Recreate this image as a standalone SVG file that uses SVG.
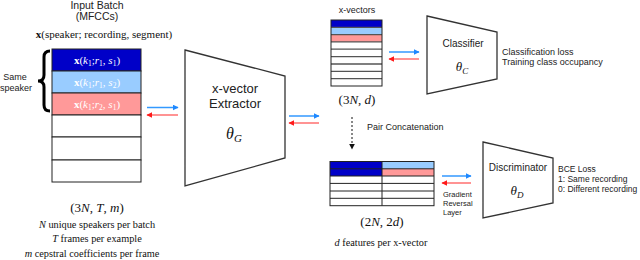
<svg xmlns="http://www.w3.org/2000/svg" width="640" height="260" viewBox="0 0 640 260">
<defs>
<style>
.sans{font-family:"Liberation Sans",Arial,sans-serif;fill:#222}
.serif{font-family:"Liberation Serif","Times New Roman",serif;fill:#111}
.cell{stroke:#222;stroke-width:1}
.trap{fill:#fff;stroke:#333;stroke-width:1.3}
.dk{fill:#0000C8}
.lb{fill:#99CCFF}
.pk{fill:#FF9999}
.wh{fill:#fff}
.blue{stroke:#3399FF;stroke-width:1.5;fill:none}
.red{stroke:#FF6F6F;stroke-width:1.5;fill:none}
.lbl{font-family:"Liberation Serif","Times New Roman",serif;fill:#fff;font-size:11px}
</style>
<marker id="hb" viewBox="0 0 10 10" refX="9" refY="5" markerWidth="6" markerHeight="6" orient="auto" markerUnits="userSpaceOnUse">
<path d="M0,0 L10,5 L0,10 z" fill="#1E88FF"/>
</marker>
<marker id="hr" viewBox="0 0 10 10" refX="9" refY="5" markerWidth="6" markerHeight="6" orient="auto" markerUnits="userSpaceOnUse">
<path d="M0,0 L10,5 L0,10 z" fill="#FF1A1A"/>
</marker>
<marker id="hk" viewBox="0 0 10 10" refX="9" refY="5" markerWidth="6" markerHeight="6" orient="auto" markerUnits="userSpaceOnUse">
<path d="M0,0 L10,5 L0,10 z" fill="#111"/>
</marker>
</defs>
<rect width="640" height="260" fill="#fff"/>

<g id="input-batch">
<text class="sans" x="97" y="9" font-size="10.5" text-anchor="middle">Input Batch</text>
<text class="sans" x="97" y="20" font-size="10.5" text-anchor="middle">(MFCCs)</text>
<text class="serif" x="104" y="38" font-size="11" text-anchor="middle"><tspan font-weight="bold">x</tspan>(speaker; recording, segment)</text>
<rect class="cell dk" x="52" y="49" width="89" height="22"/>
<rect class="cell lb" x="52" y="71" width="89" height="22"/>
<rect class="cell pk" x="52" y="93" width="89" height="22"/>
<rect class="cell wh" x="52" y="115" width="89" height="22"/>
<rect class="cell wh" x="52" y="137" width="89" height="23"/>
<rect class="cell wh" x="52" y="160" width="89" height="22"/>
<text class="lbl" x="97" y="64" text-anchor="middle"><tspan font-weight="bold">x</tspan>(<tspan font-style="italic">k</tspan><tspan font-size="7.5" dy="2">1</tspan><tspan dy="-2">;</tspan><tspan font-style="italic">r</tspan><tspan font-size="7.5" dy="2">1</tspan><tspan dy="-2">, </tspan><tspan font-style="italic">s</tspan><tspan font-size="7.5" dy="2">1</tspan><tspan dy="-2">)</tspan></text>
<text class="lbl" x="97" y="86" text-anchor="middle"><tspan font-weight="bold">x</tspan>(<tspan font-style="italic">k</tspan><tspan font-size="7.5" dy="2">1</tspan><tspan dy="-2">;</tspan><tspan font-style="italic">r</tspan><tspan font-size="7.5" dy="2">1</tspan><tspan dy="-2">, </tspan><tspan font-style="italic">s</tspan><tspan font-size="7.5" dy="2">2</tspan><tspan dy="-2">)</tspan></text>
<text class="lbl" x="97" y="108" text-anchor="middle"><tspan font-weight="bold">x</tspan>(<tspan font-style="italic">k</tspan><tspan font-size="7.5" dy="2">1</tspan><tspan dy="-2">;</tspan><tspan font-style="italic">r</tspan><tspan font-size="7.5" dy="2">2</tspan><tspan dy="-2">, </tspan><tspan font-style="italic">s</tspan><tspan font-size="7.5" dy="2">1</tspan><tspan dy="-2">)</tspan></text>
<path d="M50,51 Q44,51 44,57 L44,75 Q44,81 38,81 Q44,81 44,87 L44,105 Q44,111 50,111" fill="none" stroke="#000" stroke-width="3"/>
<text class="sans" x="15" y="80" font-size="9" text-anchor="middle">Same</text>
<text class="sans" x="16" y="91" font-size="9" text-anchor="middle">speaker</text>
<text class="serif" x="97" y="212" font-size="13" text-anchor="middle">(3<tspan font-style="italic">N</tspan>, <tspan font-style="italic">T</tspan>, <tspan font-style="italic">m</tspan>)</text>
<text class="serif" x="97" y="228" font-size="10.3" text-anchor="middle"><tspan font-style="italic">N</tspan> unique speakers per batch</text>
<text class="serif" x="97" y="242" font-size="10.3" text-anchor="middle"><tspan font-style="italic">T</tspan> frames per example</text>
<text class="serif" x="92" y="257" font-size="10.3" text-anchor="middle"><tspan font-style="italic">m</tspan> cepstral coefficients per frame</text>
</g>

<g id="extractor">
<polygon class="trap" points="185,50 285,76 285,158 185,186"/>
<text class="sans" x="235" y="93" font-size="13" text-anchor="middle">x-vector</text>
<text class="sans" x="235" y="108" font-size="13" text-anchor="middle">Extractor</text>
<text class="serif" x="234" y="139" font-size="16" font-style="italic" text-anchor="middle">θ<tspan font-size="11" dy="3">G</tspan></text>
</g>

<g id="x-vectors">
<text class="sans" x="357" y="13" font-size="9" text-anchor="middle">x-vectors</text>
<rect class="dk" x="331" y="20" width="51" height="7.3"/>
<rect class="lb" x="331" y="27.3" width="51" height="7.3"/>
<rect class="pk" x="331" y="34.6" width="51" height="7.3"/>
<g stroke="#555" stroke-width="1.3">
<line x1="331" y1="27.3" x2="382" y2="27.3"/>
<line x1="331" y1="34.6" x2="382" y2="34.6"/>
<line x1="331" y1="41.9" x2="382" y2="41.9"/>
<line x1="331" y1="49.2" x2="382" y2="49.2"/>
<line x1="331" y1="56.6" x2="382" y2="56.6"/>
<line x1="331" y1="64" x2="382" y2="64"/>
<line x1="331" y1="71.3" x2="382" y2="71.3"/>
<line x1="331" y1="78.7" x2="382" y2="78.7"/>
</g>
<rect x="331" y="20" width="51" height="66" fill="none" stroke="#222" stroke-width="1"/>
<text class="serif" x="357" y="104" font-size="13" text-anchor="middle">(3<tspan font-style="italic">N</tspan>, <tspan font-style="italic">d</tspan>)</text>
</g>

<g id="classifier">
<polygon class="trap" points="427,16 497,32 497,79 427,94"/>
<text class="sans" x="463" y="47" font-size="10" text-anchor="middle">Classifier</text>
<text class="serif" x="462" y="71" font-size="13" font-style="italic" text-anchor="middle">θ<tspan font-size="9" dy="2.5">C</tspan></text>
<text class="sans" x="502" y="55" font-size="9">Classification loss</text>
<text class="sans" x="502" y="65" font-size="9">Training class occupancy</text>
</g>

<g id="pair-concat">
<text class="sans" x="367" y="130" font-size="9">Pair Concatenation</text>
<rect class="dk" x="330" y="161.5" width="52" height="14.5"/>
<rect class="lb" x="382" y="161.5" width="52" height="7.3"/>
<rect class="pk" x="382" y="168.8" width="52" height="7.2"/>
<g stroke="#222" stroke-width="1">
<line x1="330" y1="168.8" x2="434" y2="168.8"/>
<line x1="330" y1="176" x2="434" y2="176"/>
<line x1="330" y1="183.4" x2="434" y2="183.4"/>
<line x1="330" y1="191" x2="434" y2="191"/>
<line x1="330" y1="198.3" x2="434" y2="198.3"/>
<line x1="382" y1="161.5" x2="382" y2="205.7"/>
</g>
<rect x="330" y="161.5" width="104" height="44.2" fill="none" stroke="#222" stroke-width="1"/>
<text class="serif" x="382" y="226" font-size="13" text-anchor="middle">(2<tspan font-style="italic">N</tspan>, 2<tspan font-style="italic">d</tspan>)</text>
<text class="serif" x="381" y="246" font-size="10.3" text-anchor="middle"><tspan font-style="italic">d</tspan> features per x-vector</text>
<text class="sans" x="443" y="197" font-size="7.5" fill="#444">Gradient</text>
<text class="sans" x="443" y="206" font-size="7.5" fill="#444">Reversal</text>
<text class="sans" x="443" y="215" font-size="7.5" fill="#444">Layer</text>
</g>

<g id="discriminator">
<polygon class="trap" points="483,142 553,158 553,203 483,218"/>
<text class="sans" x="518" y="171" font-size="10" text-anchor="middle">Discriminator</text>
<text class="serif" x="517" y="195" font-size="13" font-style="italic" text-anchor="middle">θ<tspan font-size="9" dy="2.5">D</tspan></text>
<text class="sans" x="558" y="172" font-size="8.5">BCE Loss</text>
<text class="sans" x="558" y="182" font-size="8.5">1: Same recording</text>
<text class="sans" x="558" y="192" font-size="8.5">0: Different recording</text>
</g>

<g id="connectors">
<line class="blue" x1="147" y1="107.5" x2="178" y2="107.5" marker-end="url(#hb)"/>
<line class="red" x1="178" y1="115" x2="147" y2="115" marker-end="url(#hr)"/>
<line class="blue" x1="289" y1="116" x2="319" y2="116" marker-end="url(#hb)"/>
<line class="red" x1="319" y1="123" x2="289" y2="123" marker-end="url(#hr)"/>
<line class="blue" x1="389" y1="52" x2="419" y2="52" marker-end="url(#hb)"/>
<line class="red" x1="419" y1="59" x2="389" y2="59" marker-end="url(#hr)"/>
<line class="blue" x1="442" y1="176" x2="471" y2="176" marker-end="url(#hb)"/>
<line class="red" x1="471" y1="183" x2="442" y2="183" marker-end="url(#hr)"/>
<line x1="352" y1="117" x2="352" y2="149" stroke="#111" stroke-width="1" stroke-dasharray="2,2" marker-end="url(#hk)"/>
</g>
</svg>
